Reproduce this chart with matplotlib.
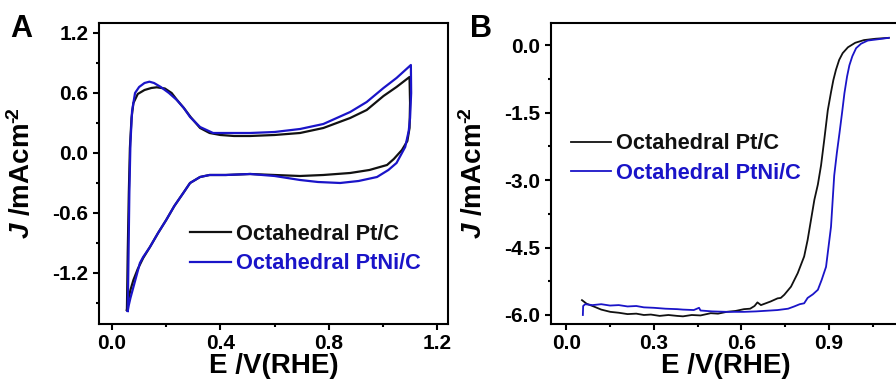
import matplotlib
matplotlib.use('Agg')
import matplotlib.pyplot as plt
from matplotlib.ticker import MultipleLocator, AutoMinorLocator

plt.rcParams['font.family'] = ['Liberation Sans', 'DejaVu Sans']
plt.rcParams['font.weight'] = 'bold'
plt.rcParams['axes.labelweight'] = 'bold'
plt.rcParams['mathtext.fontset'] = 'custom'
plt.rcParams['mathtext.rm'] = 'Liberation Sans:bold'
plt.rcParams['mathtext.it'] = 'Liberation Sans:italic:bold'
plt.rcParams['mathtext.bf'] = 'Liberation Sans:bold'

labels = ['Octahedral Pt/C', 'Octahedral PtNi/C']
colors = ['#111111', '#1a14c8']

# panel A: cyclic voltammograms (E in V, J in mA cm-2)
cv_pt_E = [0.055, 0.058, 0.062, 0.066, 0.072, 0.079, 0.095, 0.12, 0.145, 0.165, 0.195,
           0.22, 0.24, 0.265, 0.29, 0.325, 0.36, 0.40, 0.45, 0.51, 0.60, 0.694, 0.78,
           0.879, 0.94, 1.002, 1.05, 1.098,
           1.100, 1.098, 1.09, 1.07, 1.04, 1.015, 0.95, 0.879, 0.78, 0.694, 0.60, 0.51,
           0.42, 0.36, 0.325, 0.288, 0.263, 0.23, 0.20, 0.17, 0.14, 0.115, 0.095, 0.079,
           0.068, 0.06, 0.055]
cv_pt_J = [-1.57, -1.0, -0.4, 0.05, 0.35, 0.50, 0.59, 0.63, 0.65, 0.657, 0.645,
           0.60, 0.53, 0.45, 0.36, 0.25, 0.20, 0.18, 0.17, 0.17, 0.18, 0.20, 0.25,
           0.35, 0.43, 0.57, 0.66, 0.76,
           0.50, 0.25, 0.12, 0.03, -0.06, -0.12, -0.17, -0.20, -0.22, -0.23, -0.22, -0.21,
           -0.22, -0.22, -0.24, -0.30, -0.40, -0.53, -0.67, -0.80, -0.94, -1.05, -1.16, -1.27,
           -1.37, -1.47, -1.57]

cv_ptni_E = [0.058, 0.061, 0.064, 0.068, 0.074, 0.085, 0.10, 0.12, 0.138, 0.155, 0.18,
             0.21, 0.239, 0.265, 0.288, 0.325, 0.373, 0.42, 0.51, 0.60, 0.694, 0.78,
             0.879, 0.94, 1.002, 1.05, 1.103,
             1.104, 1.100, 1.095, 1.082, 1.05, 1.02, 0.978, 0.91, 0.842, 0.76, 0.694,
             0.60, 0.51, 0.42, 0.36, 0.325, 0.288, 0.263, 0.23, 0.20, 0.17, 0.14, 0.115,
             0.103, 0.091, 0.078, 0.068, 0.062, 0.058]
cv_ptni_J = [-1.58, -1.0, -0.4, 0.1, 0.42, 0.60, 0.66, 0.70, 0.713, 0.70, 0.66,
             0.60, 0.53, 0.45, 0.36, 0.26, 0.20, 0.20, 0.20, 0.21, 0.24, 0.29,
             0.41, 0.51, 0.65, 0.75, 0.88,
             0.60, 0.35, 0.22, 0.06, -0.10, -0.17, -0.24, -0.28, -0.30, -0.29, -0.27,
             -0.23, -0.21, -0.22, -0.22, -0.24, -0.30, -0.40, -0.53, -0.67, -0.80, -0.94,
             -1.04, -1.10, -1.22, -1.35, -1.45, -1.52, -1.58]

# panel B: linear sweep voltammograms
lsv_pt_E = [0.054, 0.07, 0.094, 0.12, 0.151, 0.18, 0.21, 0.24, 0.266, 0.29, 0.32, 0.35,
            0.38, 0.40, 0.43, 0.46, 0.495, 0.52, 0.55, 0.58, 0.609, 0.63, 0.645, 0.655,
            0.667, 0.70, 0.724, 0.735, 0.747, 0.77, 0.793, 0.815, 0.827, 0.85, 0.862,
            0.873, 0.884, 0.896, 0.907, 0.915, 0.924, 0.935, 0.947, 0.965, 0.99, 1.02,
            1.06, 1.105]
lsv_pt_J = [-5.67, -5.75, -5.81, -5.88, -5.93, -5.95, -5.98, -5.97, -6.00, -5.99, -6.02,
            -6.00, -6.02, -6.03, -6.00, -6.01, -5.96, -5.97, -5.93, -5.91, -5.87, -5.86,
            -5.80, -5.72, -5.78, -5.70, -5.63, -5.62, -5.55, -5.37, -5.07, -4.70, -4.33,
            -3.44, -3.10, -2.67, -2.10, -1.45, -1.05, -0.78, -0.55, -0.33, -0.18, -0.05,
            0.05, 0.11, 0.14, 0.16]

lsv_ptni_E = [0.057, 0.058, 0.065, 0.09, 0.12, 0.15, 0.18, 0.21, 0.24, 0.266, 0.30,
              0.34, 0.38, 0.40, 0.437, 0.455, 0.46, 0.50, 0.55, 0.609, 0.65, 0.70, 0.724,
              0.76, 0.781, 0.80, 0.815, 0.827, 0.845, 0.862, 0.875, 0.89, 0.907, 0.918,
              0.927, 0.936, 0.945, 0.953, 0.962, 0.970, 0.98, 0.993, 1.01, 1.033, 1.07,
              1.105]
lsv_ptni_J = [-6.00, -5.80, -5.76, -5.78, -5.76, -5.79, -5.78, -5.81, -5.80, -5.83, -5.84,
              -5.86, -5.87, -5.88, -5.89, -5.84, -5.90, -5.92, -5.93, -5.93, -5.92, -5.90,
              -5.89, -5.86, -5.81, -5.76, -5.74, -5.62, -5.54, -5.44, -5.22, -4.93, -4.04,
              -2.90, -2.40, -1.96, -1.50, -1.07, -0.70, -0.45, -0.25, -0.07, 0.03, 0.10,
              0.13, 0.16]

fig = plt.figure(figsize=(8.96, 3.87), dpi=100)
axA = fig.add_axes([0.1105, 0.1628, 0.3895, 0.7778])
axB = fig.add_axes([0.615, 0.1628, 0.39, 0.7778])

axA.plot(cv_pt_E, cv_pt_J, color=colors[0], lw=1.6, label=labels[0])
axA.plot(cv_ptni_E, cv_ptni_J, color=colors[1], lw=1.6, label=labels[1])
axA.set_xlim(-0.048, 1.24)
axA.set_ylim(-1.71, 1.3)
axA.xaxis.set_major_locator(MultipleLocator(0.4))
axA.yaxis.set_major_locator(MultipleLocator(0.6))
axA.xaxis.set_major_formatter(lambda v, p: f'{v:.1f}')
axA.yaxis.set_major_formatter(lambda v, p: f'{v:.1f}')

axB.plot(lsv_pt_E, lsv_pt_J, color=colors[0], lw=1.3, label=labels[0])
axB.plot(lsv_ptni_E, lsv_ptni_J, color=colors[1], lw=1.3, label=labels[1])
axB.set_xlim(-0.052, 1.145)
axB.set_ylim(-6.2, 0.49)
axB.xaxis.set_major_locator(MultipleLocator(0.3))
axB.yaxis.set_major_locator(MultipleLocator(1.5))
axB.xaxis.set_major_formatter(lambda v, p: f'{v:.1f}')
axB.yaxis.set_major_formatter(lambda v, p: f'{v:.1f}')

for ax in (axA, axB):
    ax.xaxis.set_minor_locator(AutoMinorLocator(2))
    ax.yaxis.set_minor_locator(AutoMinorLocator(2))
    ax.tick_params(which='both', direction='out', width=1.5, labelsize=15, top=False, right=False)
    ax.tick_params(which='major', length=4.5, pad=3)
    ax.tick_params(which='minor', length=2.5)
    for s in ax.spines.values():
        s.set_linewidth(1.5)
    ax.set_xlabel('E /V(RHE)', fontsize=20, labelpad=0)
    ax.set_ylabel('$\\mathit{J}$ /mAcm$^{\u2010\\!2}$', fontsize=20)

axA.yaxis.set_label_coords(-0.18, 0.5)
axB.yaxis.set_label_coords(-0.18, 0.5)

axA.legend(loc='upper left', bbox_to_anchor=(0.23, 0.37), frameon=False, fontsize=15.7,
           labelcolor='linecolor', handlelength=1.85, handletextpad=0.25, labelspacing=0.4,
           borderpad=0)
axB.legend(loc='upper left', bbox_to_anchor=(0.025, 0.67), frameon=False, fontsize=15.7,
           labelcolor='linecolor', handlelength=1.85, handletextpad=0.25, labelspacing=0.4,
           borderpad=0)

fig.text(0.011, 0.905, 'A', fontsize=22, fontweight='bold')
fig.text(0.524, 0.905, 'B', fontsize=22, fontweight='bold')

fig.savefig('out.png', dpi=100)
